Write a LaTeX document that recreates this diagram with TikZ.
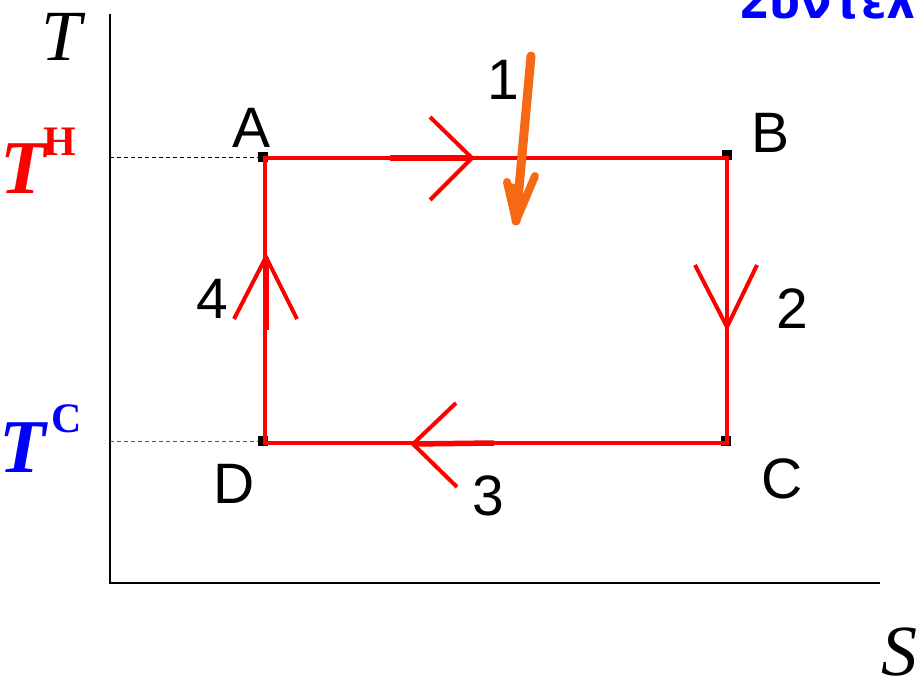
\documentclass[tikz,border=0pt]{standalone}
\usepackage{fontspec}
\setmainfont{Liberation Sans}
\newfontfamily\serifT{Liberation Serif}
\newfontfamily\greekT{DejaVu Sans}
\usetikzlibrary{positioning}

\definecolor{pen}{RGB}{245,105,20}

\begin{document}
\begin{tikzpicture}[x=1pt, y=-1pt,
    cyc/.style={draw=red, line width=4pt},
    vee/.style={draw=red, line width=4pt, line join=miter},
    axis/.style={draw=black, line width=2.5pt},
    guide/.style={dash pattern=on 4pt off 3pt, line width=1pt},
    corner/.style={rectangle, fill=black, minimum size=10pt, inner sep=0pt},
    lbl/.style={font=\fontsize{57}{60}\selectfont, inner sep=0pt, anchor=base},
    var/.style={font=\fontsize{72}{72}\selectfont\serifT\itshape, inner sep=0pt, anchor=base},
    bigT/.style={font=\fontsize{76}{76}\selectfont\serifT\bfseries\itshape, inner sep=0pt, anchor=base},
    supT/.style={font=\fontsize{42}{42}\selectfont\serifT\bfseries, inner sep=0pt, anchor=base}
]
    \useasboundingbox (0,0) rectangle (919,683);
    \clip (0,0) rectangle (919,683);

    % title, cut off at the top
    \node[font=\fontsize{46}{46}\selectfont\greekT\bfseries, text=blue, inner sep=0pt, anchor=base west] (title) at (738,18) {Συντελ};

    % axes
    \coordinate (O) at (110,583);
    \coordinate (Ttop) at (110,14);
    \coordinate (Send) at (880,583);
    \draw[axis] (Ttop) -- (O) -- (Send);
    \node[var] (Tlab) at (62,60) {T};
    \node[var] (Slab) at (899,675) {S};

    % corners of the cycle
    \coordinate (A) at (265,158);
    \coordinate (B) at (727,158);
    \coordinate (C) at (727,443);
    \coordinate (D) at (265,443);
    \node[corner] (sqA) at (263,157) {};
    \node[corner] (sqB) at (727,155) {};
    \node[corner] (sqC) at (726,441) {};
    \node[corner] (sqD) at (263,441) {};

    % temperature levels
    \coordinate (TH) at (110,157);
    \coordinate (TC) at (110,441);
    \draw[guide, black] (TH) -- (sqA.west);
    \draw[guide, black!65] (TC) -- (sqD.west);
    \node[bigT, text=red] (THT) at (24,193) {T};
    \node[supT, text=red] (THs) at (60,155) {H};
    \node[bigT, text=blue] (TCT) at (23,472) {T};
    \node[supT, text=blue] (TCs) at (67,432) {C};

    % the cycle
    \draw[cyc] (A) -- (B) -- (C) -- (D) -- cycle;

    % direction marks
    \coordinate (t1) at (472,158);
    \coordinate (t2) at (727,327);
    \coordinate (t3) at (413,444);
    \coordinate (t4) at (266,257);
    \coordinate (s1) at (390,158);
    \coordinate (s3) at (494,443);
    \coordinate (s4) at (266,330);
    \draw[red, line width=5.5pt] (s1) -- (t1);
    \draw[red, line width=5.5pt] (s3) -- (t3);
    \draw[red, line width=5pt] (s4) -- (t4);
    \draw[vee] (t1) ++(-42,-41) -- (t1) -- ++(-42,42);
    \draw[vee] (t2) ++(-32,-62) -- (t2) -- ++(30,-62);
    \draw[vee] (t3) ++(43,-41) -- (t3) -- ++(44,43);
    \draw[vee] (t4) ++(-32,62) -- (t4) -- ++(31,62);

    % labels
    \node[lbl] (labA) at (252,147) {A};
    \node[lbl] (labB) at (771,152) {B};
    \node[lbl] (labC) at (782,498) {C};
    \node[lbl] (labD) at (234,503) {D};
    \node[lbl] (n1) at (503,99) {1};
    \node[lbl] (n2) at (792,328) {2};
    \node[lbl] (n3) at (488,515) {3};
    \node[lbl] (n4) at (212,318) {4};

    % hand drawn arrow
    \coordinate (p1) at (531,56);
    \coordinate (p2) at (516,221);
    \draw[pen, line width=9pt, line cap=round] (p1) -- (p2);
    \fill[pen, line join=round] (507,182) -- (p2) -- (521,186) -- cycle;
    \draw[pen, line width=8pt, line cap=round, line join=round] (507,182) -- (p2) -- (535,176);
\end{tikzpicture}
\end{document}
